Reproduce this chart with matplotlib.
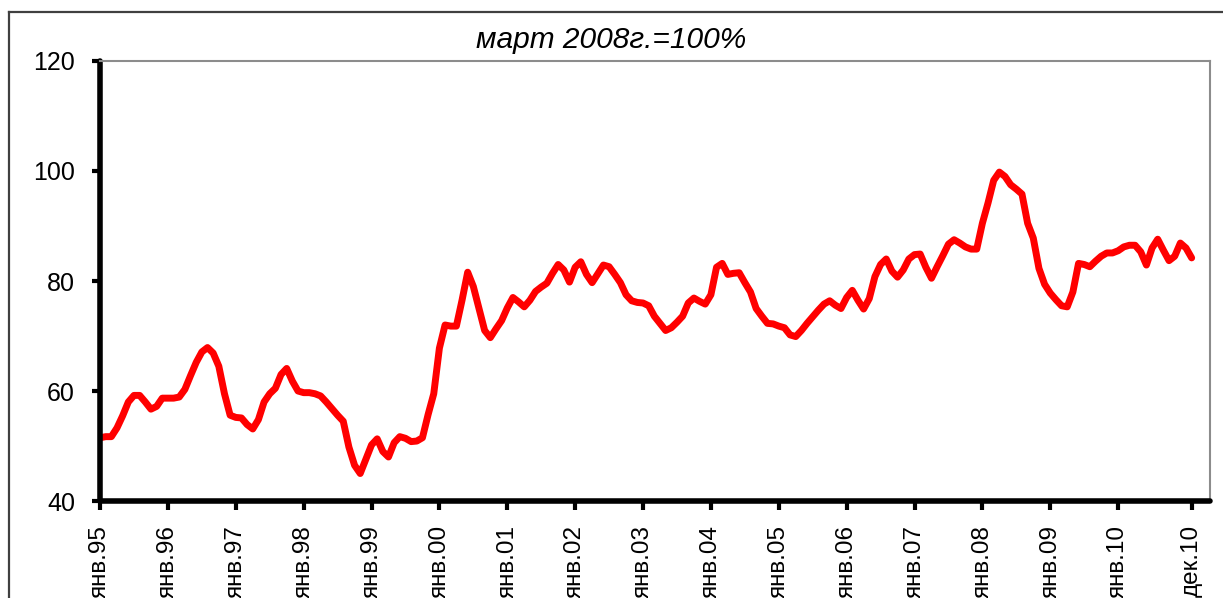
import numpy as np
import matplotlib.pyplot as plt
from matplotlib.lines import Line2D

# monthly index, March 2008 = 100
values = [
    51.5, 51.7, 51.7, 53.3, 55.5, 58.0, 59.2, 59.2, 58.0, 56.7, 57.2, 58.7,
    58.7, 58.7, 58.9, 60.3, 62.8, 65.2, 67.1, 67.9, 66.9, 64.5, 59.5, 55.6,
    55.2, 55.1, 53.9, 53.1, 54.8, 58.0, 59.5, 60.5, 63.0, 64.1, 61.8, 60.0,
    59.7, 59.7, 59.5, 59.1, 58.0, 56.8, 55.6, 54.5, 49.8, 46.5, 45.0, 47.6,
    50.2, 51.3, 49.0, 48.0, 50.6, 51.7, 51.4, 50.8, 50.9, 51.5, 55.7, 59.5,
    67.8, 72.0, 71.8, 71.8, 76.5, 81.6, 79.0, 75.0, 71.0, 69.7, 71.3, 72.8,
    75.1, 77.0, 76.2, 75.3, 76.5, 78.1, 78.9, 79.6, 81.4, 83.0, 82.0, 79.8,
    82.5, 83.5, 81.2, 79.7, 81.3, 82.9, 82.6, 81.2, 79.7, 77.5, 76.4, 76.1,
    76.0, 75.5, 73.6, 72.3, 71.0, 71.5, 72.5, 73.6, 76.0, 76.9, 76.3, 75.8,
    77.5, 82.5, 83.2, 81.2, 81.4, 81.5, 79.7, 78.0, 75.0, 73.6, 72.3, 72.2,
    71.8, 71.5, 70.2, 69.9, 71.0, 72.3, 73.5, 74.7, 75.8, 76.4, 75.6, 75.0,
    77.0, 78.3, 76.5, 74.9, 76.8, 80.8, 83.0, 84.0, 81.8, 80.7, 82.0, 84.0,
    84.8, 84.9, 82.5, 80.5, 82.6, 84.6, 86.7, 87.5, 86.9, 86.2, 85.8, 85.8,
    90.5, 94.2, 98.3, 99.8, 99.0, 97.5, 96.7, 95.8, 90.5, 87.8, 82.3, 79.4,
    77.8, 76.6, 75.5, 75.3, 78.0, 83.2, 83.0, 82.6, 83.6, 84.5, 85.1, 85.1,
    85.5, 86.2, 86.5, 86.5, 85.3, 82.9, 86.0, 87.6, 85.6, 83.7, 84.5, 86.9,
    86.0, 84.2,
]
tick_labels = ['янв.95', 'янв.96', 'янв.97', 'янв.98', 'янв.99', 'янв.00',
               'янв.01', 'янв.02', 'янв.03', 'янв.04', 'янв.05', 'янв.06',
               'янв.07', 'янв.08', 'янв.09', 'янв.10', 'дек.10']
title = 'март 2008г.=100%'

plt.rcParams['font.family'] = ['Liberation Sans', 'DejaVu Sans']

x = np.arange(len(values))
ticks = list(range(0, 12 * (len(tick_labels) - 1), 12)) + [len(values) - 1]

fig = plt.figure(figsize=(12.23, 5.98), dpi=100)
ax = fig.add_axes([0.0818, 0.1622, 0.9076, 0.7358])

ax.plot(x, values, color='#ff0000', lw=5, solid_joinstyle='round',
        solid_capstyle='round')

ax.set_xlim(0, 196.25)
ax.set_ylim(40, 120)
ax.set_yticks([40, 60, 80, 100, 120])
ax.set_xticks(ticks)
ax.set_xticklabels(tick_labels, rotation=90)

for s in ['left', 'bottom']:
    ax.spines[s].set_linewidth(4)
    ax.spines[s].set_color('black')
    ax.spines[s].set_capstyle('round')
for s in ['top', 'right']:
    ax.spines[s].set_linewidth(1.5)
    ax.spines[s].set_color('#8c8c8c')

ax.tick_params(axis='y', length=6, width=3, pad=12, labelsize=18)
ax.tick_params(axis='x', length=6.5, width=3, pad=11, labelsize=17.5)

fig.text(0.5, 0.92, title, ha='center', va='baseline', fontsize=21.5,
         style='italic')

# outer frame of the chart area
fig.add_artist(Line2D([0.0073, 0.0073], [0.0, 0.98], transform=fig.transFigure,
                      color='#404040', lw=1.6))
fig.add_artist(Line2D([0.0073, 1.0], [0.98, 0.98], transform=fig.transFigure,
                      color='#404040', lw=1.6))

fig.savefig('out.png', dpi=100)
